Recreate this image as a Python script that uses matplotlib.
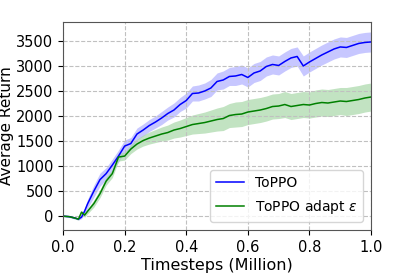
import matplotlib.pyplot as plt
import numpy as np

# -----------------------------
# Data
# -----------------------------
timesteps = [0.00, 0.02, 0.04, 0.05, 0.06, 0.07, 0.08, 0.10, 0.12, 0.14,
             0.16, 0.18, 0.20, 0.22, 0.24, 0.26, 0.28, 0.30, 0.32, 0.34,
             0.36, 0.38, 0.40, 0.42, 0.44, 0.46, 0.48, 0.50, 0.52, 0.54,
             0.56, 0.58, 0.60, 0.62, 0.64, 0.66, 0.68, 0.70, 0.72, 0.74,
             0.76, 0.78, 0.80, 0.82, 0.84, 0.86, 0.88, 0.90, 0.92, 0.94,
             0.96, 0.98, 1.00]

toppo_mean = [0, -10, -40, -60, -20, 100, 250, 500, 730, 850,
              1020, 1200, 1400, 1450, 1640, 1720, 1810, 1880, 1960, 2050,
              2120, 2230, 2310, 2450, 2460, 2500, 2560, 2690, 2720, 2790,
              2800, 2830, 2770, 2860, 2900, 2990, 3030, 3010, 3090, 3160,
              3190, 3000, 3080, 3150, 3220, 3280, 3340, 3380, 3370, 3410,
              3450, 3470, 3480]
toppo_std = [10, 15, 20, 20, 30, 60, 90, 120, 130, 120,
             120, 120, 120, 120, 120, 120, 120, 120, 130, 130,
             140, 140, 150, 150, 160, 160, 170, 170, 180, 180,
             190, 190, 190, 190, 190, 190, 190, 190, 190, 190,
             190, 200, 200, 200, 200, 200, 200, 200, 200, 200,
             200, 200, 200]

adapt_mean = [0, -10, -40, -60, 80, 20, 100, 250, 450, 700,
              850, 1180, 1200, 1340, 1440, 1510, 1560, 1600, 1640, 1670,
              1720, 1750, 1790, 1830, 1850, 1870, 1900, 1930, 1950, 2010,
              2030, 2040, 2080, 2100, 2120, 2150, 2190, 2200, 2230, 2190,
              2210, 2230, 2220, 2250, 2270, 2260, 2280, 2300, 2290, 2310,
              2330, 2360, 2380]
adapt_std = [10, 15, 20, 20, 30, 40, 50, 70, 80, 80,
             80, 80, 80, 90, 100, 110, 120, 130, 140, 150,
             160, 170, 180, 190, 200, 210, 220, 230, 240, 240,
             250, 250, 250, 250, 250, 250, 250, 250, 260, 260,
             260, 260, 260, 270, 270, 270, 270, 270, 280, 280,
             280, 280, 280]

# -----------------------------
# Plot
# -----------------------------
t = np.array(timesteps)
plt.figure(figsize=(3.99, 2.74), dpi=100)
ax = plt.gca()

for mean, std, color, fill, label in [
        (toppo_mean, toppo_std, 'blue', '#b0b0ff', 'ToPPO'),
        (adapt_mean, adapt_std, 'green', '#a8d8a8', r'ToPPO adapt $\epsilon$')]:
    m = np.array(mean)
    s = np.array(std)
    ax.fill_between(t, m - s, m + s, color=fill, alpha=0.7, linewidth=0)
    ax.plot(t, m, color=color, linewidth=1.1, label=label)

ax.set_xlim(0, 1.0)
ax.set_ylim(-280, 3880)
ax.set_xticks([0.0, 0.2, 0.4, 0.6, 0.8, 1.0])
ax.set_yticks([0, 500, 1000, 1500, 2000, 2500, 3000, 3500])
ax.tick_params(labelsize=10.5)
ax.grid(True, linestyle='--', color='#c0c0c0', linewidth=0.8)
for sp in ax.spines.values():
    sp.set_color('#555555')

ax.set_xlabel("Timesteps (Million)", fontsize=11.5, labelpad=2)
ax.set_ylabel("Average Return", fontsize=11, labelpad=1)
ax.legend(loc='lower right', fontsize=10, borderaxespad=0.6, labelspacing=0.6)

plt.subplots_adjust(left=0.158, right=0.93, top=0.92, bottom=0.16)
plt.savefig('out.png', dpi=100)
